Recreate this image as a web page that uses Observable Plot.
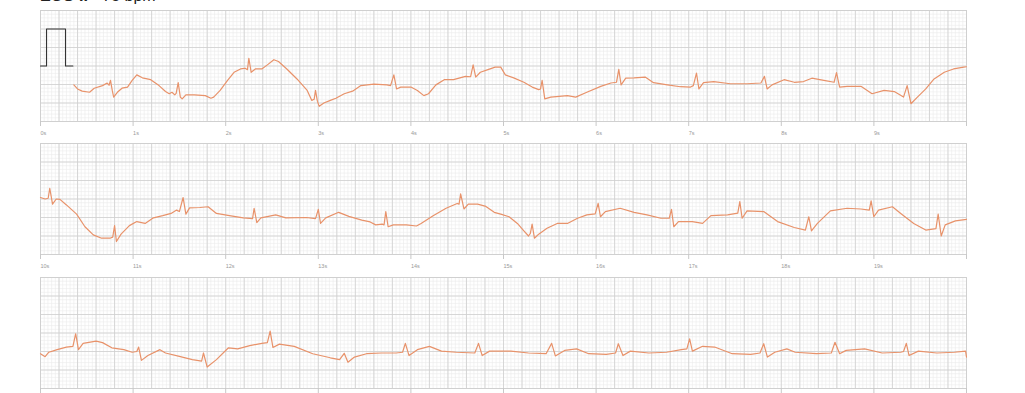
<!DOCTYPE html>
<html>
<head>
<meta charset="utf-8">
<script src="https://cdn.jsdelivr.net/npm/d3@7"></script>
<script src="https://cdn.jsdelivr.net/npm/@observablehq/plot@0.6"></script>
<style>
  html, body { margin: 0; padding: 0; background: #fff; overflow: hidden; }
  #wrap { margin-top: -14px; font-family: "Liberation Sans", Arial, sans-serif; }
  #title { height: 22px; line-height: 20px; font-size: 16px; color: #222; padding-left: 40px; white-space: nowrap; }
  #title b { font-weight: 700; }
</style>
</head>
<body>
<div id="wrap">
  <div id="title"><b>ECG II</b> · 75 bpm</div>
  <div id="rows"></div>
</div>
<script>
// ---- data (seconds, millivolts) ----
const rowStarts = [0, 10, 20];
const tickLabels = [
  ["0s","1s","2s","3s","4s","5s","6s","7s","8s","9s",""],
  ["10s","11s","12s","13s","14s","15s","16s","17s","18s","19s",""],
  ["20s","21s","22s","23s","24s","25s","26s","27s","28s","29s",""]
];

const calT = [0, 0.065, 0.065, 0.27, 0.27, 0.35];
const calV = [0, 0, 1, 1, 0, 0];

const t1 = [0.36,0.40,0.45,0.53,0.58,0.67,0.72,0.74,0.756,0.775,0.79,0.83,0.88,0.94,0.99,1.04,1.10,1.19,1.28,1.35,1.39,1.42,1.45,1.465,1.487,1.51,1.53,1.57,1.66,1.78,1.84,1.87,1.94,2.02,2.09,2.16,2.21,2.235,2.25,2.275,2.32,2.39,2.45,2.52,2.57,2.66,2.77,2.88,2.93,2.955,2.97,2.99,3.01,3.06,3.13,3.19,3.28,3.37,3.46,3.60,3.74,3.78,3.816,3.845,3.89,4.00,4.07,4.14,4.19,4.27,4.36,4.46,4.59,4.645,4.672,4.70,4.75,4.84,4.91,4.97,5.02,5.11,5.22,5.31,5.38,5.40,5.417,5.446,5.51,5.60,5.69,5.78,5.90,6.05,6.16,6.22,6.245,6.27,6.32,6.41,6.53,6.62,6.77,6.91,7.02,7.05,7.084,7.11,7.16,7.27,7.45,7.63,7.78,7.818,7.847,7.90,8.03,8.14,8.24,8.33,8.46,8.57,8.596,8.63,8.71,8.86,8.98,9.11,9.22,9.32,9.359,9.40,9.47,9.56,9.65,9.76,9.86,9.97,10.0];
const v1 = [-0.51,-0.62,-0.68,-0.71,-0.60,-0.53,-0.46,-0.52,-0.39,-0.66,-0.84,-0.71,-0.60,-0.57,-0.39,-0.24,-0.32,-0.37,-0.53,-0.69,-0.75,-0.71,-0.78,-0.74,-0.45,-0.84,-0.89,-0.78,-0.78,-0.80,-0.87,-0.84,-0.66,-0.39,-0.17,-0.08,-0.06,-0.10,0.21,-0.17,-0.08,-0.08,0.03,0.17,0.12,-0.08,-0.35,-0.66,-0.93,-0.90,-0.66,-0.95,-1.09,-1.00,-0.93,-0.87,-0.75,-0.68,-0.53,-0.49,-0.51,-0.53,-0.24,-0.62,-0.57,-0.57,-0.66,-0.80,-0.75,-0.51,-0.37,-0.37,-0.28,-0.29,0.03,-0.30,-0.17,-0.09,-0.03,-0.03,-0.24,-0.32,-0.44,-0.57,-0.64,-0.62,-0.39,-0.89,-0.84,-0.82,-0.80,-0.84,-0.71,-0.55,-0.46,-0.44,-0.09,-0.51,-0.33,-0.32,-0.30,-0.45,-0.51,-0.56,-0.57,-0.53,-0.19,-0.62,-0.45,-0.42,-0.48,-0.48,-0.46,-0.28,-0.62,-0.51,-0.37,-0.44,-0.42,-0.33,-0.39,-0.44,-0.18,-0.57,-0.55,-0.55,-0.75,-0.66,-0.69,-0.84,-0.53,-1.02,-0.84,-0.62,-0.35,-0.17,-0.08,-0.03,-0.02];

const t2 = [10.00,10.05,10.083,10.10,10.13,10.17,10.21,10.28,10.39,10.48,10.57,10.66,10.75,10.78,10.80,10.82,10.87,10.96,11.04,11.13,11.22,11.32,11.41,11.47,11.50,11.54,11.57,11.61,11.72,11.81,11.90,12.04,12.19,12.29,12.307,12.336,12.38,12.54,12.65,12.87,12.97,13.00,13.024,13.08,13.22,13.33,13.47,13.56,13.62,13.69,13.71,13.729,13.754,13.81,13.95,14.06,14.11,14.24,14.38,14.50,14.52,14.537,14.573,14.62,14.72,14.81,14.90,14.97,15.06,15.15,15.22,15.27,15.29,15.309,15.334,15.38,15.47,15.58,15.69,15.80,15.90,15.99,16.022,16.047,16.10,16.26,16.41,16.55,16.70,16.79,16.814,16.839,16.89,17.04,17.15,17.24,17.42,17.53,17.552,17.577,17.63,17.81,17.96,18.14,18.26,18.297,18.326,18.39,18.53,18.71,18.86,18.95,18.97,18.999,19.05,19.20,19.29,19.43,19.56,19.67,19.694,19.727,19.77,19.88,20.00];
const v2 = [0.04,0.00,0.02,0.29,-0.14,0.00,-0.01,-0.16,-0.41,-0.75,-0.97,-1.06,-1.06,-1.03,-0.72,-1.15,-0.95,-0.72,-0.61,-0.66,-0.51,-0.45,-0.39,-0.30,-0.34,0.04,-0.41,-0.24,-0.23,-0.21,-0.39,-0.45,-0.51,-0.53,-0.25,-0.64,-0.51,-0.43,-0.51,-0.50,-0.53,-0.28,-0.66,-0.51,-0.36,-0.47,-0.57,-0.62,-0.70,-0.68,-0.70,-0.34,-0.75,-0.70,-0.70,-0.73,-0.66,-0.45,-0.25,-0.12,-0.14,0.14,-0.27,-0.14,-0.14,-0.20,-0.36,-0.41,-0.48,-0.66,-0.86,-1.00,-0.93,-0.68,-1.06,-0.95,-0.79,-0.66,-0.66,-0.52,-0.43,-0.40,-0.12,-0.48,-0.34,-0.25,-0.36,-0.43,-0.52,-0.52,-0.28,-0.75,-0.61,-0.61,-0.66,-0.45,-0.43,-0.38,-0.07,-0.52,-0.32,-0.34,-0.61,-0.77,-0.84,-0.48,-0.86,-0.66,-0.32,-0.25,-0.27,-0.30,-0.05,-0.48,-0.30,-0.21,-0.39,-0.66,-0.84,-0.80,-0.41,-1.00,-0.70,-0.59,-0.55];

const t3 = [20.00,20.05,20.09,20.18,20.28,20.35,20.38,20.41,20.46,20.60,20.67,20.77,20.90,20.99,21.04,21.06,21.09,21.16,21.29,21.35,21.51,21.64,21.74,21.76,21.80,21.90,22.03,22.13,22.26,22.39,22.45,22.48,22.51,22.58,22.74,22.94,23.13,23.23,23.28,23.32,23.39,23.52,23.68,23.84,23.91,23.94,23.98,24.07,24.20,24.33,24.49,24.69,24.73,24.77,24.85,25.08,25.27,25.46,25.52,25.56,25.66,25.79,25.92,26.11,26.21,26.24,26.29,26.37,26.57,26.76,26.92,26.98,27.01,27.04,27.15,27.28,27.47,27.67,27.77,27.81,27.85,27.93,28.06,28.15,28.38,28.54,28.58,28.63,28.70,28.90,29.09,29.29,29.32,29.35,29.38,29.48,29.68,29.87,29.99,30.00];
const v3 = [-0.56,-0.64,-0.52,-0.45,-0.38,-0.36,-0.02,-0.45,-0.28,-0.22,-0.26,-0.40,-0.45,-0.52,-0.50,-0.38,-0.74,-0.61,-0.45,-0.54,-0.64,-0.72,-0.76,-0.54,-0.92,-0.72,-0.40,-0.43,-0.34,-0.28,-0.26,0.05,-0.39,-0.30,-0.36,-0.56,-0.67,-0.72,-0.55,-0.79,-0.65,-0.56,-0.54,-0.54,-0.52,-0.28,-0.61,-0.45,-0.36,-0.49,-0.52,-0.54,-0.28,-0.61,-0.49,-0.49,-0.54,-0.56,-0.28,-0.62,-0.47,-0.43,-0.56,-0.58,-0.54,-0.29,-0.61,-0.49,-0.54,-0.52,-0.45,-0.43,-0.16,-0.49,-0.36,-0.38,-0.56,-0.58,-0.54,-0.29,-0.65,-0.52,-0.43,-0.52,-0.56,-0.54,-0.25,-0.56,-0.47,-0.43,-0.54,-0.52,-0.50,-0.28,-0.61,-0.49,-0.54,-0.52,-0.49,-0.65];

const traces = [[t1, v1], [t2, v2], [t3, v3]];

// ---- drawing ----
const traceColor = "#e8926a";
const minorColor = "#ebebeb";
const majorColor = "#cfcfcf";

function rng(a, b, step) {
  const n = Math.round((b - a) / step);
  return d3.range(n + 1).map(i => +(a + i * step).toFixed(4));
}

const rows = document.getElementById("rows");
rowStarts.forEach((t0, r) => {
  const [ts, vs] = traces[r];
  const data = ts.map((t, i) => ({t, v: vs[i]}));
  const xMinor = rng(t0, t0 + 10, 0.04);
  const xMajor = rng(t0, t0 + 10, 0.2);
  const yMinor = rng(-1.5, 1.5, 0.1);
  const yMajor = rng(-1.5, 1.5, 0.5);
  const secTicks = rng(t0, t0 + 10, 1);
  const marks = [
    Plot.ruleX(xMinor, {stroke: minorColor, strokeWidth: 0.6}),
    Plot.ruleY(yMinor, {stroke: minorColor, strokeWidth: 0.6}),
    Plot.ruleX(xMajor, {stroke: majorColor, strokeWidth: 0.8}),
    Plot.ruleY(yMajor, {stroke: majorColor, strokeWidth: 0.8}),
    Plot.frame({stroke: "#d0d0d0"}),
    Plot.axisX({
      ticks: secTicks, tickSize: 5, tickPadding: 5, fontSize: 5.5,
      textAnchor: "start", stroke: "#c8c8c8", fill: "#999", label: null,
      tickFormat: (d, i) => tickLabels[r][i]
    })
  ];
  if (r === 0) {
    marks.push(Plot.line(calT.map((t, i) => ({t, v: calV[i]})), {x: "t", y: "v", stroke: "#333", strokeWidth: 1.1}));
  }
  marks.push(Plot.line(data, {x: "t", y: "v", stroke: traceColor, strokeWidth: 1.2, strokeLinejoin: "round"}));
  const svg = Plot.plot({
    width: 1025,
    height: r === 1 ? 134 : 133,
    marginLeft: 40,
    marginRight: 59,
    marginTop: 2,
    marginBottom: r === 1 ? 21 : 20,
    x: {domain: [t0, t0 + 10], axis: null},
    y: {domain: [-1.5, 1.5], axis: null},
    style: {fontFamily: "Liberation Sans, Arial, sans-serif", background: "white"},
    marks
  });
  rows.appendChild(svg);
});
</script>
</body>
</html>
